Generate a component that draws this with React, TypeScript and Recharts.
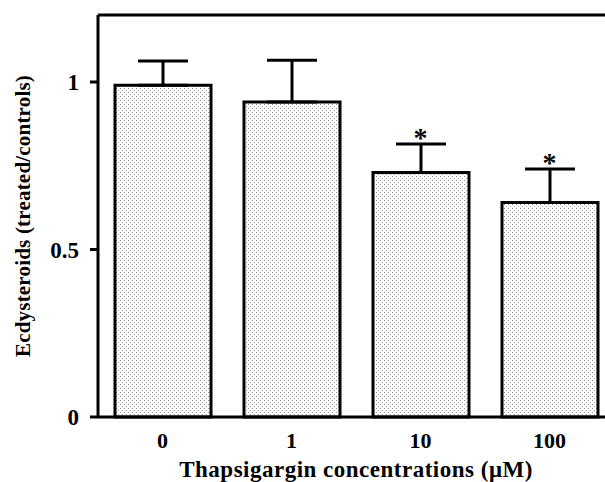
import {
  Bar,
  ComposedChart,
  ErrorBar,
  LabelList,
  Line,
  ReferenceLine,
  XAxis,
  YAxis,
} from "recharts";

const categories = ["0", "1", "10", "100"];
const means = [0.99, 0.94, 0.73, 0.64];
const sem = [0.073, 0.125, 0.085, 0.1];
const significant = [false, false, true, true];
const yTicks = [0, 0.5, 1];

const data = categories.map((c, i) => ({
  conc: c,
  value: means[i],
  err: [0, sem[i]],
  upper: means[i] + sem[i],
}));

const font = "'Liberation Serif', 'Times New Roman', serif";

export default function App() {
  return (
    <div
      style={{
        position: "absolute",
        left: 0,
        top: 0,
        width: 605,
        height: 482,
        overflow: "hidden",
        background: "#fff",
      }}
    >
      <ComposedChart
        width={640}
        height={482}
        data={data}
        margin={{ top: 15, right: 26, bottom: 0, left: 0 }}
      >
        <defs>
          <pattern id="stipple" width={4} height={4} patternUnits="userSpaceOnUse">
            <rect width={4} height={4} fill="#fff" />
            <rect x={0} y={0} width={1} height={1} fill="#8a8a8a" />
            <rect x={2} y={2} width={1} height={1} fill="#a8a8a8" />
          </pattern>
        </defs>
        <XAxis
          dataKey="conc"
          tickLine={false}
          tickSize={6}
          tickMargin={9}
          height={65}
          axisLine={{ stroke: "#000", strokeWidth: 3 }}
          tick={{ fill: "#000", fontSize: 22, fontWeight: 700, fontFamily: font }}
          label={{
            value: "Thapsigargin concentrations (\u03bcM)",
            position: "insideBottom",
            offset: 5,
            fill: "#000",
            fontSize: 23,
            fontWeight: 700,
            fontFamily: font,
            letterSpacing: 0.5,
          }}
        />
        <YAxis
          domain={[0, 1.2]}
          ticks={yTicks}
          width={98}
          tickSize={8}
          tickMargin={11}
          axisLine={{ stroke: "#000", strokeWidth: 3 }}
          tickLine={{ stroke: "#000", strokeWidth: 3 }}
          tick={{ fill: "#000", fontSize: 23, fontWeight: 700, fontFamily: font }}
          label={{
            content: (p: any) => {
              const vb = p.viewBox;
              const cx = vb.x + 23;
              const cy = vb.y + vb.height / 2;
              return (
                <text
                  x={cx}
                  y={cy}
                  transform={`rotate(-90 ${cx} ${cy})`}
                  textAnchor="middle"
                  dominantBaseline="central"
                  fill="#000"
                  fontSize={21}
                  fontWeight={700}
                  fontFamily={font}
                  letterSpacing={0.2}
                >
                  Ecdysteroids (treated/controls)
                </text>
              );
            },
          }}
        />
        <ReferenceLine y={1.2} stroke="#000" strokeWidth={3} />
        <Bar
          dataKey="value"
          barSize={96}
          fill="url(#stipple)"
          stroke="#000"
          strokeWidth={3}
          isAnimationActive={false}
        >
          <ErrorBar
            dataKey="err"
            direction="y"
            width={25}
            stroke="#000"
            strokeWidth={3}
            isAnimationActive={false}
          />
        </Bar>
        <Line
          dataKey="upper"
          stroke="none"
          dot={false}
          activeDot={false}
          isAnimationActive={false}
        >
          <LabelList
            dataKey="upper"
            content={(p: any) =>
              significant[p.index] ? (
                <text
                  x={p.x}
                  y={p.y + 3}
                  textAnchor="middle"
                  fill="#000"
                  fontSize={28}
                  fontWeight={700}
                  fontFamily={font}
                >
                  *
                </text>
              ) : null
            }
          />
        </Line>
      </ComposedChart>
    </div>
  );
}
